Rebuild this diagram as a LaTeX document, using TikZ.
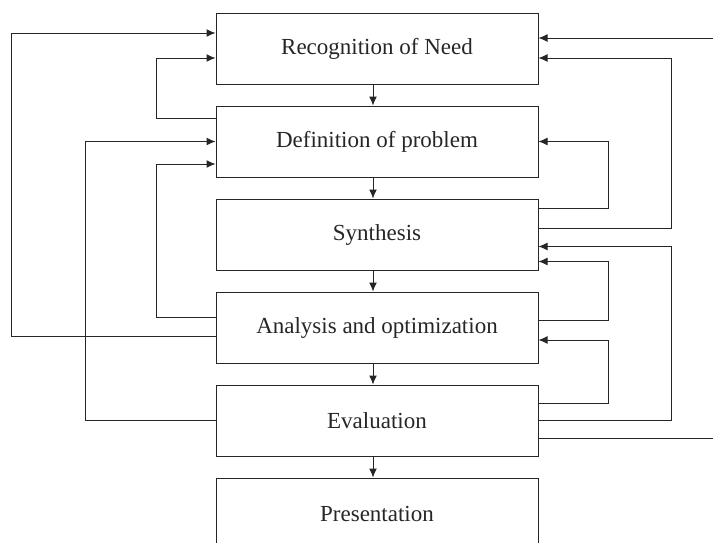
\documentclass[tikz,border=0pt]{standalone}
\usepackage{fontspec}
\setmainfont{Liberation Serif}
\usetikzlibrary{positioning,arrows.meta}
\tikzstyle{phase} = [rectangle, draw, text centered, minimum width=322pt, minimum height=71pt, inner sep=0pt, font=\fontsize{23}{27}\selectfont]
\tikzstyle{line} = [draw, -{Latex[length=9pt,width=8pt]}]

\begin{document}
\begin{tikzpicture}[x=1pt, y=-1pt, node distance=21pt, line width=1pt, black!85]
\useasboundingbox (0,0) rectangle (713,542);
\clip (0,0) rectangle (713,542);
% Design phases
    \node [phase] (need) at (377,48.5) {Recognition of Need};
    \node [phase, below=of need] (prob) {Definition of problem};
    \node [phase, below=of prob] (synth) {Synthesis};
    \node [phase, below=of synth] (anal) {Analysis and optimization};
    \node [phase, below=of anal] (eval) {Evaluation};
    \node [phase, below=of eval] (pres) {Presentation};

    % Downward flow
    \path [line] ([xshift=-4pt]need.south) -- ([xshift=-4pt]prob.north);
    \path [line] ([xshift=-4pt]prob.south) -- ([xshift=-4pt]synth.north);
    \path [line] ([xshift=-4pt]synth.south) -- ([xshift=-4pt]anal.north);
    \path [line] ([xshift=-4pt]anal.south) -- ([xshift=-4pt]eval.north);
    \path [line] ([xshift=-4pt]eval.south) -- ([xshift=-4pt]pres.north);

    % Feedback, left side
    \path [line] ([yshift=-8.5pt]anal.west) -- ++(-204pt,0) |- ([yshift=15.5pt]need.west);
    \path [line] ([yshift=23.5pt]prob.west) -- ++(-59pt,0) |- ([yshift=-9.5pt]need.west);
    \path [line] (eval.west) -- ++(-130pt,0) |- (prob.west);
    \path [line] ([yshift=10.5pt]anal.west) -- ++(-59pt,0) |- ([yshift=-22.5pt]prob.west);

    % Feedback, right side
    \path [line] ([yshift=-18pt]eval.east) -- ++(190pt,0) |- ([yshift=10.5pt]need.east);
    \path [line] ([yshift=6pt]synth.east) -- ++(133pt,0) |- ([yshift=-9.5pt]need.east);
    \path [line] ([yshift=26pt]synth.east) -- ++(70pt,0) |- (prob.east);
    \path [line] (eval.east) -- ++(133pt,0) |- ([yshift=-12pt]synth.east);
    \path [line] ([yshift=7.5pt]anal.east) -- ++(70pt,0) |- ([yshift=-27pt]synth.east);
    \path [line] ([yshift=17pt]eval.east) -- ++(70pt,0) |- ([yshift=-12.5pt]anal.east);
\end{tikzpicture}
\end{document}
